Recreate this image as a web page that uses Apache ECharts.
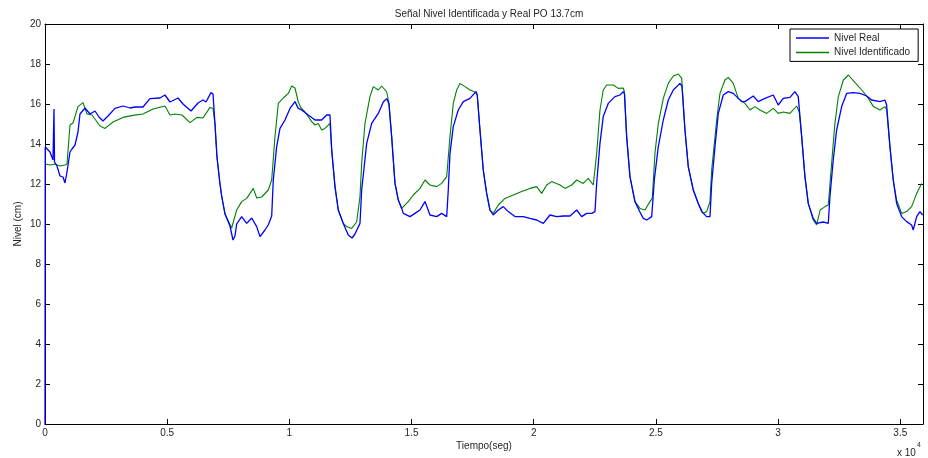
<!DOCTYPE html>
<html>
<head>
<meta charset="utf-8">
<script src="https://cdn.jsdelivr.net/npm/echarts@6/dist/echarts.min.js"></script>
<style>
html,body{margin:0;padding:0;background:#fff;}
#chart{width:928px;height:458px;}
</style>
</head>
<body>
<div id="chart"></div>
<script>
// Time in seconds
const realTime = [0,10,205,327,356,368,389,491,614,737,818,900,1023,1105,1228,1350,1432,1637,1841,2046,2210,2373,2578,2864,3192,3478,3683,4010,4296,4705,4910,5115,5443,5647,5975,6261,6465,6588,6793,6875,6956,7038,7161,7230,7366,7570,7693,7775,7844,8049,8253,8458,8663,8798,9002,9137,9277,9342,9481,9616,9821,10025,10230,10365,10504,10774,11048,11322,11527,11662,11732,11867,12002,12207,12411,12563,12685,12890,12959,13164,13369,13639,13843,13983,14076,14186,14322,14458,14597,14663,14936,15140,15345,15550,15754,16028,16233,16438,16503,16573,16708,16912,17117,17391,17636,17689,17800,17935,18074,18209,18344,18549,18753,18958,19232,19572,19846,20120,20391,20665,20939,21210,21483,21757,21962,22166,22371,22506,22576,22711,22845,23050,23324,23529,23664,23713,23803,23938,24142,24347,24484,24623,24828,24934,25098,25302,25507,25712,25984,26066,26189,26324,26529,26733,26873,27078,27213,27282,27418,27553,27757,27962,28167,28370,28508,28644,28984,29188,29462,29802,30006,30211,30485,30690,30825,30965,31099,31234,31439,31578,31848,32053,32122,32257,32396,32601,32806,33076,33350,33624,33829,34168,34373,34442,34577,34712,34851,35056,35261,35465,35531,35670,35805,35915];
const realLevel = [0,13.85,13.6,13.2,13.15,15.75,13.1,12.9,12.4,12.35,12.05,12.6,13.6,13.75,13.95,14.6,15.5,15.8,15.5,15.65,15.35,15.15,15.4,15.78,15.9,15.8,15.85,15.85,16.27,16.3,16.45,16.1,16.3,16.0,15.65,16.05,16.2,16.1,16.57,16.5,15.0,13.35,12.0,11.4,10.5,9.9,9.2,9.4,10.0,10.37,10.03,10.3,9.87,9.37,9.7,9.95,10.4,12.2,13.87,14.78,15.2,15.78,16.12,15.78,15.7,15.45,15.2,15.2,15.45,15.45,13.7,11.87,10.7,10.03,9.45,9.3,9.5,10.03,11.7,14.03,15.03,15.53,16.1,16.27,16.0,14.37,12.03,11.2,10.78,10.53,10.37,10.53,10.7,11.12,10.45,10.37,10.53,10.37,11.7,13.53,14.87,15.7,16.12,16.28,16.62,16.45,14.7,12.7,11.53,10.7,10.45,10.7,10.87,10.62,10.37,10.37,10.28,10.2,10.03,10.45,10.37,10.4,10.4,10.7,10.37,10.53,10.53,10.62,12.03,14.03,15.37,16.03,16.37,16.45,16.62,16.5,14.37,12.37,11.12,10.6,10.28,10.2,10.37,12.2,13.87,15.2,16.2,16.7,17.03,16.9,14.7,12.87,11.7,11.03,10.62,10.37,10.37,12.03,13.87,15.53,16.45,16.62,16.53,16.28,16.12,16.12,16.4,16.12,16.28,16.45,15.95,16.28,16.33,16.62,16.37,14.37,12.37,11.03,10.28,10.03,10.1,10.03,11.37,13.2,14.7,15.87,16.53,16.57,16.53,16.4,16.2,16.12,16.2,15.95,13.87,12.2,11.03,10.37,10.12,9.95,9.7,10.37,10.62,10.45];

const identTime = [0,205,409,614,818,900,1023,1146,1350,1555,1719,1923,2251,2455,2783,3192,3601,4010,4419,4910,5115,5320,5606,5933,6220,6465,6752,6875,6956,7038,7161,7230,7366,7639,7844,8049,8253,8524,8663,8867,9137,9277,9412,9547,9751,9956,10095,10230,10365,10476,10639,10913,11048,11183,11322,11457,11662,11732,11867,12002,12207,12345,12550,12754,12890,12959,13094,13299,13434,13639,13778,13983,14076,14186,14322,14458,14597,14866,15071,15345,15550,15754,16028,16233,16438,16573,16708,16847,16982,17187,17391,17596,17689,17800,17935,18074,18209,18344,18549,18823,19163,19506,19846,20120,20325,20530,20734,21074,21278,21552,21757,22027,22232,22437,22576,22711,22845,22984,23255,23460,23664,23713,23803,23938,24142,24347,24552,24757,24851,24961,25098,25302,25507,25712,25917,26056,26189,26324,26529,26733,26937,27078,27213,27282,27487,27621,27826,27962,28167,28370,28644,28848,29053,29257,29532,29802,30006,30211,30485,30760,30866,30965,31099,31234,31439,31578,31719,31924,32053,32191,32326,32466,32671,32876,33151,33425,33695,33900,34168,34373,34442,34577,34712,34851,35056,35261,35465,35670,35875];
const identLevel = [13.0,12.95,13.0,12.9,12.95,13.0,14.95,15.05,15.87,16.07,15.5,15.45,14.9,14.78,15.1,15.33,15.43,15.5,15.75,15.9,15.45,15.5,15.45,15.07,15.33,15.3,15.83,15.78,15.0,13.35,12.0,11.4,10.5,9.8,10.7,11.12,11.28,11.78,11.3,11.35,11.7,12.2,14.37,16.03,16.3,16.53,16.9,16.8,16.1,15.8,15.6,15.12,14.95,15.03,14.7,14.78,15.03,13.7,11.87,10.7,10.03,9.87,9.78,10.1,11.37,13.03,15.03,16.37,16.87,16.7,16.9,16.6,16.03,14.37,12.03,11.2,10.78,11.12,11.45,11.78,12.2,11.95,11.87,12.03,12.37,14.37,16.03,16.7,17.03,16.87,16.7,16.6,16.45,14.7,12.7,11.53,10.7,10.53,10.95,11.28,11.45,11.62,11.78,11.87,11.53,11.95,12.12,11.95,11.78,11.95,12.2,12.03,12.28,11.95,13.53,15.7,16.7,16.95,16.95,16.78,16.8,16.6,14.37,12.37,11.12,10.78,10.7,11.12,11.28,13.53,15.03,16.28,17.03,17.4,17.5,17.28,14.7,12.87,11.7,11.03,10.53,10.62,11.12,12.7,15.2,16.53,17.2,17.33,17.03,16.28,16.03,15.7,15.87,15.7,15.53,15.78,15.53,15.6,15.53,15.9,15.6,14.37,12.37,11.03,10.2,9.95,10.7,10.87,10.95,13.03,15.03,16.37,17.2,17.45,17.07,16.7,16.28,15.87,15.7,15.87,15.7,13.87,12.2,11.2,10.53,10.62,10.87,11.53,12.03];

const titleText = 'Señal Nivel Identificada y Real PO 13.7cm';
const xName = 'Tiempo(seg)';
const yName = 'Nivel (cm)';
const seriesNames = ['Nivel Real', 'Nivel Identificado'];

const zip = (a, b) => a.map((v, i) => [v, b[i]]);
const FONT = 'Liberation Sans, Arial, sans-serif';
const TXT = '#262626';

const chart = echarts.init(document.getElementById('chart'), null, {renderer: 'canvas'});
const baseAxisLine = {show: true, onZero: false, lineStyle: {color: '#000', width: 1}};
const tickIn = {show: true, inside: true, length: 5, lineStyle: {color: '#000', width: 1}};

chart.setOption({
  animation: false,
  backgroundColor: '#fff',
  title: {
    text: titleText, left: 484, top: 4, textAlign: 'center',
    textStyle: {fontFamily: FONT, fontSize: 10, fontWeight: 'normal', color: TXT}
  },
  grid: {left: 45, right: 5, top: 24, bottom: 34, containLabel: false},
  legend: {
    orient: 'vertical', left: 790, top: 29,
    data: seriesNames.map(n => ({name: n, icon: 'rect'})),
    backgroundColor: '#fff', borderColor: '#000', borderWidth: 1,
    padding: [3, 8, 3, 6], itemWidth: 33, itemHeight: 1.5, itemGap: 2.4,
    textStyle: {fontFamily: FONT, fontSize: 10, color: TXT, lineHeight: 12}
  },
  xAxis: [{
    type: 'value', min: 0, max: 35930, interval: 5000,
    name: xName, nameLocation: 'middle', nameGap: 17, nameMoveOverlap: false,
    nameTextStyle: {fontFamily: FONT, fontSize: 10, color: TXT},
    axisLine: baseAxisLine, axisTick: tickIn,
    axisLabel: {show: true, margin: 4, showMaxLabel: false, fontFamily: FONT, fontSize: 10, color: TXT,
      formatter: v => String(v / 10000)},
    splitLine: {show: false}
  }, {
    type: 'value', min: 0, max: 35930, interval: 5000, position: 'top',
    axisLine: baseAxisLine, axisTick: tickIn, axisLabel: {show: false}, splitLine: {show: false}
  }],
  yAxis: [{
    type: 'value', min: 0, max: 20, interval: 2,
    name: yName, nameLocation: 'middle', nameGap: 22, nameMoveOverlap: false,
    nameTextStyle: {fontFamily: FONT, fontSize: 10, color: TXT},
    axisLine: baseAxisLine, axisTick: tickIn,
    axisLabel: {show: true, margin: 4, fontFamily: FONT, fontSize: 10, color: TXT},
    splitLine: {show: false}
  }, {
    type: 'value', min: 0, max: 20, interval: 2, position: 'right',
    axisLine: baseAxisLine, axisTick: tickIn, axisLabel: {show: false}, splitLine: {show: false}
  }],
  graphic: [{
    type: 'text', left: 897, top: 442,
    style: {
      text: '{a|x 10}{b|4}',
      rich: {
        a: {fontFamily: FONT, fontSize: 10, fill: TXT, verticalAlign: 'bottom', padding: [6, 0, 0, 0]},
        b: {fontFamily: FONT, fontSize: 7, fill: TXT, verticalAlign: 'top', padding: [0, 0, 0, 1]}
      }
    }
  }],
  series: [{
    name: seriesNames[0], type: 'line', xAxisIndex: 0, yAxisIndex: 0,
    data: zip(realTime, realLevel), symbol: 'none', showSymbol: false,
    lineStyle: {color: '#0000ff', width: 1.3}, itemStyle: {color: '#0000ff'}, z: 3
  }, {
    name: seriesNames[1], type: 'line', xAxisIndex: 0, yAxisIndex: 0,
    data: zip(identTime, identLevel), symbol: 'none', showSymbol: false,
    lineStyle: {color: '#008000', width: 1.1}, itemStyle: {color: '#008000'}, z: 2
  }]
});
</script>
</body>
</html>
